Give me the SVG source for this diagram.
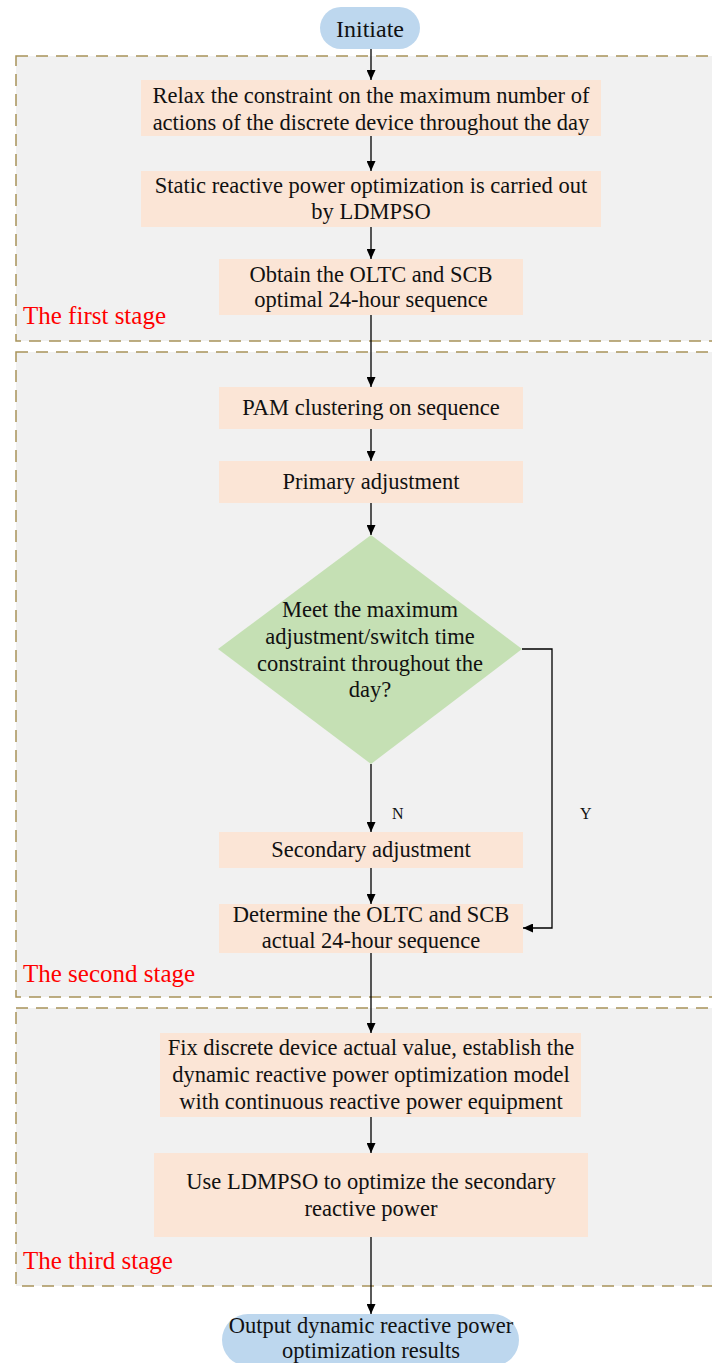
<svg xmlns="http://www.w3.org/2000/svg" width="712" height="1363" viewBox="0 0 712 1363">
<style>
  .stage{fill:#f1f1f1;stroke:#a8935a;stroke-width:1.5;stroke-dasharray:12 8}
  .box{fill:#fbe5d6;stroke:none}
  .term{fill:#bdd7ee;stroke:none}
  .dec{fill:#c5e0b4;stroke:none}
  .t{font-family:"Liberation Serif","Times New Roman",serif;font-size:22.5px;fill:#111;text-anchor:middle}
  .lbl{font-family:"Liberation Serif","Times New Roman",serif;font-size:25px;fill:#ff0000}
  .yn{font-family:"Liberation Serif","Times New Roman",serif;font-size:16px;fill:#111}
  .c{fill:none;stroke:#000;stroke-width:1.3}
</style>
<defs>
  <marker id="ah" markerWidth="10" markerHeight="9" refX="10" refY="4.5" orient="auto" markerUnits="userSpaceOnUse">
    <path d="M0,0 L10,4.5 L0,9 z" fill="#000"/>
  </marker>
</defs>
<rect width="712" height="1363" fill="#ffffff"/>
<g id="stage1">
  <rect class="stage" x="16" y="56" width="720" height="285"/>
  <text class="lbl" x="23" y="324">The first stage</text>
</g>
<g id="stage2">
  <rect class="stage" x="16" y="352" width="720" height="645"/>
  <text class="lbl" x="23" y="982">The second stage</text>
</g>
<g id="stage3">
  <rect class="stage" x="16" y="1008" width="720" height="278"/>
  <text class="lbl" x="23" y="1269">The third stage</text>
</g>
<g id="connectors">
  <line class="c" x1="371" y1="49" x2="371" y2="80" marker-end="url(#ah)"/>
  <line class="c" x1="371" y1="136" x2="371" y2="171" marker-end="url(#ah)"/>
  <line class="c" x1="371" y1="227" x2="371" y2="259" marker-end="url(#ah)"/>
  <line class="c" x1="371" y1="315" x2="371" y2="387" marker-end="url(#ah)"/>
  <line class="c" x1="371" y1="429" x2="371" y2="461" marker-end="url(#ah)"/>
  <line class="c" x1="371" y1="503" x2="371" y2="535" marker-end="url(#ah)"/>
  <line class="c" x1="371" y1="764" x2="371" y2="832" marker-end="url(#ah)"/>
  <line class="c" x1="371" y1="868" x2="371" y2="904" marker-end="url(#ah)"/>
  <polyline class="c" points="522,649 552,649 552,928 523,928" marker-end="url(#ah)"/>
  <line class="c" x1="371" y1="953" x2="371" y2="1033" marker-end="url(#ah)"/>
  <line class="c" x1="371" y1="1117" x2="371" y2="1153" marker-end="url(#ah)"/>
  <line class="c" x1="371" y1="1237" x2="371" y2="1314" marker-end="url(#ah)"/>
  <text class="yn" x="392" y="819">N</text>
  <text class="yn" x="580" y="819">Y</text>
</g>
<g id="initiate">
  <rect class="term" x="320" y="7" width="100" height="42" rx="21"/>
  <text class="t" x="370" y="37" style="font-size:24px">Initiate</text>
</g>
<g id="relax">
  <rect class="box" x="141" y="80" width="460" height="56"/>
  <text class="t" x="371" y="103">Relax the constraint on the maximum number of</text>
  <text class="t" x="371" y="130">actions of the discrete device throughout the day</text>
</g>
<g id="static">
  <rect class="box" x="141" y="171" width="460" height="56"/>
  <text class="t" x="371" y="193">Static reactive power optimization is carried out</text>
  <text class="t" x="371" y="219">by LDMPSO</text>
</g>
<g id="obtain">
  <rect class="box" x="219" y="259" width="304" height="56"/>
  <text class="t" x="371" y="282">Obtain the OLTC and SCB</text>
  <text class="t" x="371" y="307">optimal 24-hour sequence</text>
</g>
<g id="pam">
  <rect class="box" x="219" y="387" width="304" height="42"/>
  <text class="t" x="371" y="415">PAM clustering on sequence</text>
</g>
<g id="primary">
  <rect class="box" x="219" y="461" width="304" height="42"/>
  <text class="t" x="371" y="489">Primary adjustment</text>
</g>
<g id="decision">
  <polygon class="dec" points="371,535 522,649 371,764 218,649"/>
  <text class="t" x="370" y="617">Meet the maximum</text>
  <text class="t" x="370" y="644">adjustment/switch time</text>
  <text class="t" x="370" y="671">constraint throughout the</text>
  <text class="t" x="370" y="697">day?</text>
</g>
<g id="secondary">
  <rect class="box" x="219" y="832" width="304" height="36"/>
  <text class="t" x="371" y="857">Secondary adjustment</text>
</g>
<g id="determine">
  <rect class="box" x="219" y="904" width="304" height="49"/>
  <text class="t" x="371" y="922">Determine the OLTC and SCB</text>
  <text class="t" x="371" y="948">actual 24-hour sequence</text>
</g>
<g id="fix">
  <rect class="box" x="160" y="1033" width="421" height="84"/>
  <text class="t" x="371" y="1055">Fix discrete device actual value, establish the</text>
  <text class="t" x="371" y="1082">dynamic reactive power optimization model</text>
  <text class="t" x="371" y="1109">with continuous reactive power equipment</text>
</g>
<g id="use">
  <rect class="box" x="154" y="1153" width="434" height="84"/>
  <text class="t" x="371" y="1189">Use LDMPSO to optimize the secondary</text>
  <text class="t" x="371" y="1216">reactive power</text>
</g>
<g id="output">
  <rect class="term" x="222" y="1314" width="297" height="52" rx="26"/>
  <text class="t" x="371" y="1333">Output dynamic reactive power</text>
  <text class="t" x="371" y="1358">optimization results</text>
</g>
</svg>
